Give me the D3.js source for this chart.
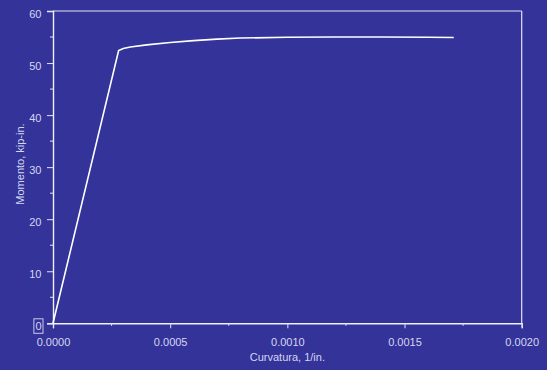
<!DOCTYPE html>
<html>
<head>
<meta charset="utf-8">
<script src="https://cdn.jsdelivr.net/npm/d3@7/dist/d3.min.js"></script>
<style>
  html, body { margin: 0; padding: 0; background: #333399; }
  svg { display: block; }
  text { font-family: "Liberation Sans", Arial, sans-serif; fill: #d6d6f0; }
</style>
</head>
<body>
<svg id="chart" width="547" height="370"></svg>
<script>
// Moment–curvature response
const curvature = [0, 0.00028, 0.00030, 0.00033, 0.0004, 0.0005, 0.0006, 0.0007, 0.0008, 0.0010, 0.0012, 0.0014, 0.0016, 0.00171];
const moment    = [0, 52.4,    52.8,    53.1,    53.5,   53.95,  54.3,   54.6,   54.8,   54.95,  55.0,   55.0,   54.95,  54.9];

const xTicks = [0, 0.0005, 0.0010, 0.0015, 0.0020];
const xMinor = [0.00025, 0.00075, 0.00125, 0.00175];
const yTicks = [0, 10, 20, 30, 40, 50, 60];
const yMinor = [5, 15, 25, 35, 45, 55];

const xTitle = "Curvatura, 1/in.";
const yTitle = "Momento, kip-in.";

const svg = d3.select("#chart");
const W = 547, H = 370;
const m = { left: 53, right: 25.3, top: 11, bottom: 46.7 };

const x = d3.scaleLinear().domain([0, 0.002]).range([m.left, W - m.right]);
const y = d3.scaleLinear().domain([0, 60]).range([H - m.bottom, m.top]);

svg.append("rect").attr("width", W).attr("height", H).attr("fill", "#333399");

// frame (top and right)
svg.append("line").attr("x1", x(0)).attr("x2", x(0.002)).attr("y1", y(60)).attr("y2", y(60))
  .attr("stroke", "#e4e4f4").attr("stroke-width", 1.2);
svg.append("line").attr("x1", x(0.002)).attr("x2", x(0.002)).attr("y1", y(60)).attr("y2", y(0))
  .attr("stroke", "#e4e4f4").attr("stroke-width", 1.2);

// x axis
const xAxis = d3.axisBottom(x).tickValues(xTicks).tickFormat(d3.format(".4f")).tickSize(5).tickPadding(10);
const gx = svg.append("g").attr("transform", `translate(0,${y(0)})`).call(xAxis);
gx.append("g").selectAll("line").data(xMinor).join("line")
  .attr("x1", d => x(d)).attr("x2", d => x(d)).attr("y1", 0).attr("y2", 2.5);

// y axis
const yAxis = d3.axisLeft(y).tickValues(yTicks).tickFormat(d3.format("d")).tickSize(6).tickPadding(5.5);
const gy = svg.append("g").attr("transform", `translate(${x(0)},0)`).call(yAxis);
gy.append("g").selectAll("line").data(yMinor).join("line")
  .attr("x1", 0).attr("x2", -3).attr("y1", d => y(d)).attr("y2", d => y(d));

[gx, gy].forEach(g => {
  g.select(".domain").attr("stroke", "#f0f0fa").attr("stroke-width", 1.4);
  g.selectAll("line").attr("stroke", "#e4e4f4").attr("stroke-width", 1);
  g.selectAll("text").attr("font-size", 11).attr("fill", "#d6d6f0")
    .attr("font-family", "Liberation Sans, Arial, sans-serif");
});
gy.selectAll(".tick text").attr("dy", "0.55em");

// box round the zero label of the y axis
const zeroLabel = gy.selectAll(".tick").filter(d => d === 0).select("text").node();
if (zeroLabel) {
  const b = zeroLabel.getBBox();
  gy.append("rect")
    .attr("x", b.x - 1.5).attr("y", y(0) - 4.5)
    .attr("width", b.width + 3).attr("height", 14.5)
    .attr("fill", "none").attr("stroke", "#c8c8e8").attr("stroke-width", 1);
}

// axis titles
svg.append("text").attr("x", (x(0) + x(0.002)) / 2).attr("y", 361)
  .attr("text-anchor", "middle").attr("font-size", 11).text(xTitle);
svg.append("text").attr("transform", `translate(23.5,164) rotate(-90)`)
  .attr("text-anchor", "middle").attr("font-size", 11).text(yTitle);

// curve
const pts = curvature.map((c, i) => [c, moment[i]]);
svg.append("path").datum(pts)
  .attr("fill", "none").attr("stroke", "#ffffff").attr("stroke-width", 1.6)
  .attr("d", d3.line().x(d => x(d[0])).y(d => y(d[1])));
</script>
</body>
</html>
